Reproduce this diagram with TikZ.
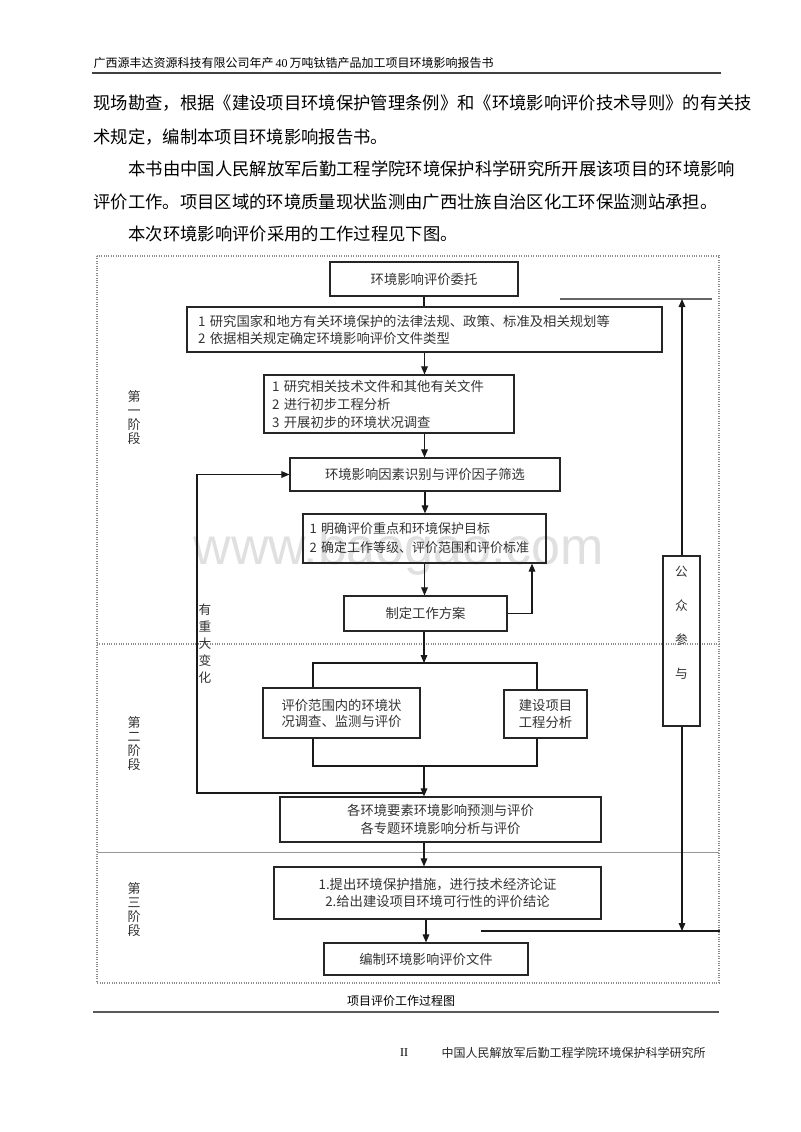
\documentclass[tikz,border=0pt]{standalone}
\usepackage{fontspec}
\setmainfont{Liberation Serif}
\newfontfamily\cjk{Noto Sans CJK SC}
\newfontfamily\wmfont{Liberation Sans}
\usetikzlibrary{arrows.meta}

\tikzset{every picture/.style={line width=0.75pt}}
\tikzset{
  bodyline/.style={anchor=west, inner sep=0pt, font=\cjk\fontsize{13pt}{13pt}\selectfont},
  smalltext/.style={inner sep=0pt, font=\cjk\fontsize{9pt}{9pt}\selectfont},
  procbox/.style={draw=black!85, line width=0.9pt, inner sep=0pt, text=black!80, align=center, font=\cjk\fontsize{10pt}{13.5pt}\selectfont},
  listbox/.style={procbox, align=left, inner ysep=0pt},
  stagelabel/.style={inner sep=0pt, align=center, text=black!80, font=\cjk\fontsize{9.75pt}{10.5pt}\selectfont},
  flow/.style={-{Triangle[length=6pt,width=5pt]}, line width=0.8pt, black!90},
  plainflow/.style={line width=0.8pt, black!90},
  frameline/.style={densely dotted, black!45, line width=0.8pt},
}

\begin{document}
\begin{tikzpicture}[x=0.75pt,y=0.75pt,yscale=-1,xscale=1]
\useasboundingbox (0,0) rectangle (800,1132);

% Watermark
\draw (399,551) node [inner sep=0pt, text=black!12, font=\wmfont\fontsize{39pt}{39pt}\selectfont] (watermark) {www.baogao.com};

% Text Node
\draw (93,63) node [smalltext, anchor=west] (header) {\cjk 广西源丰达资源科技有限公司年产\,{\rmfamily 40}\,万吨钛锆产品加工项目环境影响报告书};
%Straight Lines
\draw [line width=1.2pt, black!75] (92,73) -- (721,73) ;

% Text Node
\draw (93,103) node [bodyline] (parA) {现场勘查，根据《建设项目环境保护管理条例》和《环境影响评价技术导则》的有关技};
% Text Node
\draw (93,137) node [bodyline] (parB) {术规定，编制本项目环境影响报告书。};
% Text Node
\draw (128,169) node [bodyline] (parC) {本书由中国人民解放军后勤工程学院环境保护科学研究所开展该项目的环境影响};
% Text Node
\draw (93,202) node [bodyline] (parD) {评价工作。项目区域的环境质量现状监测由广西壮族自治区化工环保监测站承担。};
% Text Node
\draw (128,234) node [bodyline] (parE) {本次环境影响评价采用的工作过程见下图。};

%Shape: Rectangle (dotted frame)
\draw [frameline] (97,256) rectangle (719,983) ;
%Straight Lines (stage dividers)
\draw [frameline] (97,644) -- (719,644) ;
\draw [black!40, line width=0.6pt] (97,852) -- (719,852) ;

% Stage labels
\draw (134,418) node [stagelabel] (stageone) {第\\一\\阶\\段};
\draw (134,744) node [stagelabel] (stagetwo) {第\\二\\阶\\段};
\draw (134,910) node [stagelabel] (stagethree) {第\\三\\阶\\段};

% Process boxes
\draw (424,279) node [procbox, minimum width=141pt, minimum height=25.5pt] (entrust) {环境影响评价委托};
\draw (424.5,329.5) node [listbox, text width=339.75pt, inner xsep=8.25pt, minimum height=33.75pt, font=\cjk\fontsize{10pt}{12.75pt}\selectfont] (lawreg) {1 研究国家和地方有关环境保护的法律法规、政策、标准及相关规划等\\2 依据相关规定确定环境影响评价文件类型};
\draw (389,404) node [listbox, text width=175.5pt, inner xsep=6pt, minimum height=43.5pt] (docstudy) {1 研究相关技术文件和其他有关文件\\2 进行初步工程分析\\3 开展初步的环境状况调查};
\draw (425,474.5) node [procbox, minimum width=202.5pt, minimum height=24.75pt] (factor) {环境影响因素识别与评价因子筛选};
\draw (424.5,538.5) node [listbox, text width=172.25pt, inner xsep=5pt, minimum height=36.75pt, font=\cjk\fontsize{9.75pt}{14.25pt}\selectfont] (target) {1~明确评价重点和环境保护目标\\2~确定工作等级、评价范围和评价标准};
\draw (425.5,613.5) node [procbox, minimum width=122.25pt, minimum height=26.25pt] (plan) {制定工作方案};
\draw (341.5,713) node [procbox, minimum width=117.75pt, minimum height=37.5pt, font=\cjk\fontsize{10pt}{12pt}\selectfont] (survey) {评价范围内的环境状\\况调查、监测与评价};
\draw (545.5,714) node [procbox, minimum width=62.25pt, minimum height=36pt, font=\cjk\fontsize{10pt}{12.75pt}\selectfont] (projana) {建设项目\\工程分析};
\draw (440.5,819.5) node [procbox, minimum width=240.75pt, minimum height=33.75pt] (predict) {各环境要素环境影响预测与评价\\各专题环境影响分析与评价};
\draw (437.5,893) node [procbox, minimum width=245.25pt, minimum height=39pt, font=\cjk\fontsize{10pt}{12.5pt}\selectfont] (measure) {1.提出环境保护措施，进行技术经济论证\\2.给出建设项目环境可行性的评价结论};
\draw (426,959) node [procbox, minimum width=153pt, minimum height=24pt] (report) {编制环境影响评价文件};
\draw (681.5,641) node [procbox, minimum width=27.75pt, minimum height=127.5pt] (public) {};
\draw (681.5,622.5) node [stagelabel, font=\cjk\fontsize{9.5pt}{25.5pt}\selectfont] (publictxt) {公\\众\\参\\与};

% Text Node
\draw (205,644) node [stagelabel, font=\cjk\fontsize{9.5pt}{12.75pt}\selectfont] (change) {有\\重\\大\\变\\化};

% Helper points
\coordinate (split) at (424,663);
\coordinate (splitL) at (313,663);
\coordinate (splitR) at (537,663);
\coordinate (join) at (424,766);
\coordinate (joinL) at (313,766);
\coordinate (joinR) at (537,766);
\coordinate (loopB) at (197,793);
\coordinate (backx) at (532,600);
\coordinate (topL) at (560,299);
\coordinate (topR) at (712,299);
\coordinate (botL) at (481,931);
\coordinate (botR) at (720,931);
\coordinate (pubx) at (682,641);

% Connectors
\draw [plainflow] (entrust.south) -- (entrust.south |- lawreg.north) ;
\draw [flow] (lawreg.south) -- (lawreg.south |- docstudy.north) ;
\draw [flow] (lawreg.south |- docstudy.south) -- (lawreg.south |- factor.north) ;
\draw [flow] (factor.south) -- (factor.south |- target.north) ;
\draw [flow] (target.south) -- (target.south |- plan.north) ;
\draw [flow] (plan.east) -| (target.south -| backx) ;
\draw [flow] (split |- plan.south) -- (split) ;
\draw [plainflow] (splitL |- survey.north) -- (splitL) -- (splitR) -- (splitR |- projana.north) ;
\draw [plainflow] (splitL |- survey.south) -- (joinL) -- (joinR) -- (splitR |- projana.south) ;
\draw [flow] (join) -- (join |- predict.north) ;
\draw [flow] (loopB -| join) -- (loopB) |- (factor.west) ;
\draw [flow] (join |- predict.south) -- (join |- measure.north) ;
\draw [flow] (report.north |- measure.south) -- (report.north) ;

% Public participation lines
\draw [black!60, line width=1.3pt] (topL) -- (topR) ;
\draw [flow] (pubx |- public.north) -- (pubx |- topL) ;
\draw [plainflow] (botL) -- (botR) ;
\draw [flow] (pubx |- public.south) -- (pubx |- botL) ;

% Caption
\draw (401,1001) node [smalltext] (caption) {项目评价工作过程图};
\draw [line width=1.5pt, black!65] (93,1012) -- (719,1012) ;

% Footer
\draw (404,1053) node [inner sep=0pt, font=\fontsize{9pt}{9pt}\selectfont] (pageno) {II};
\draw (441,1053) node [smalltext, anchor=west, text=black!85] (footer) {中国人民解放军后勤工程学院环境保护科学研究所};

\end{tikzpicture}
\end{document}
